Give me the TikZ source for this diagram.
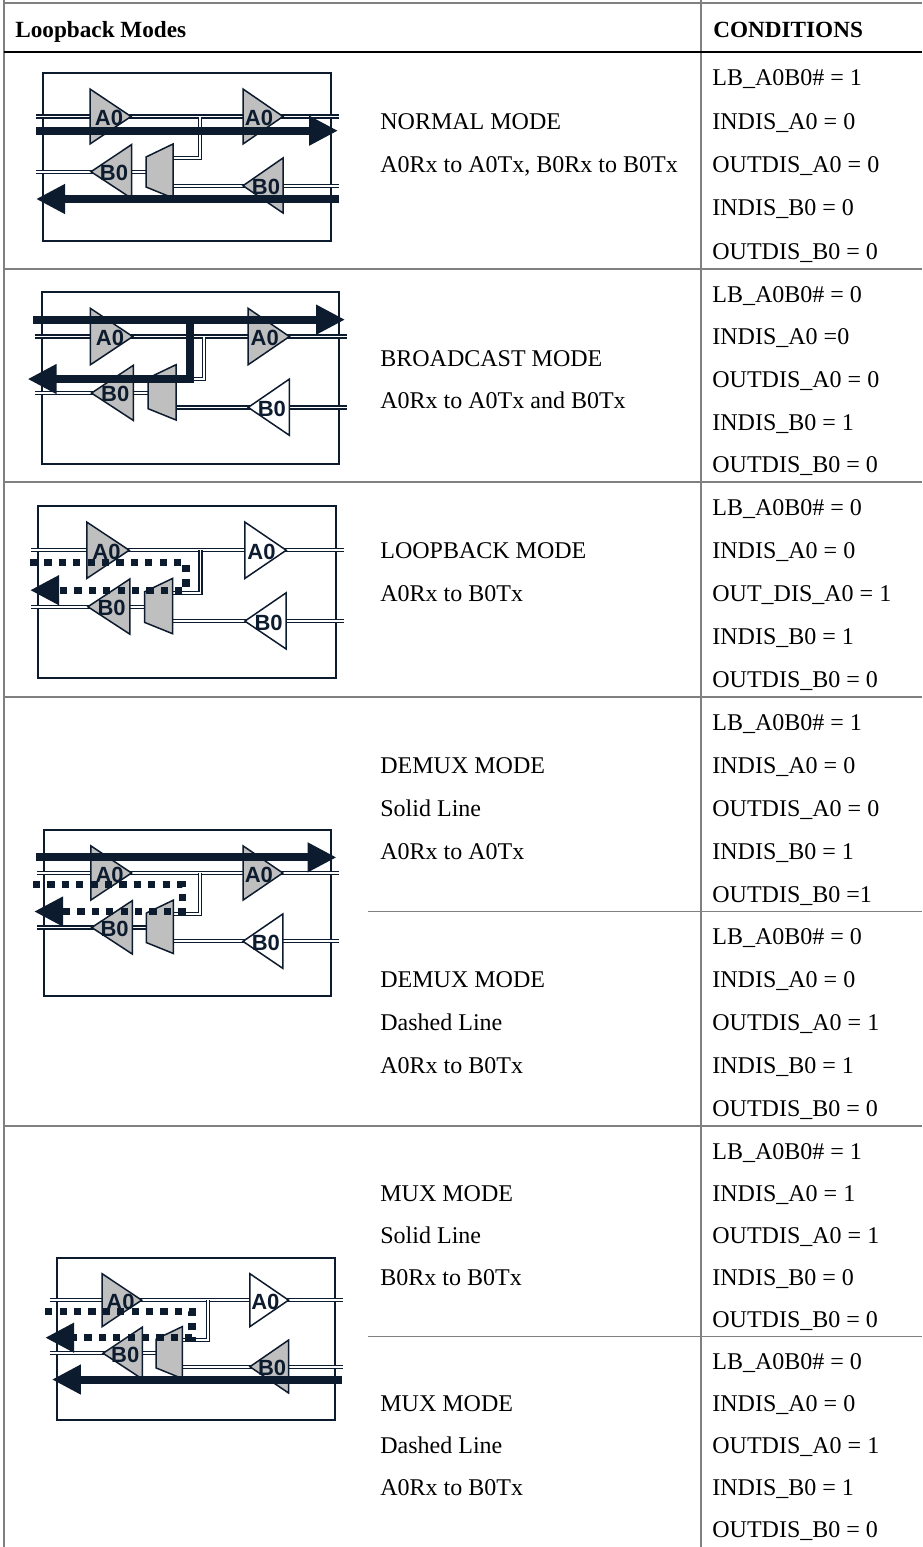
\documentclass[tikz,border=0pt]{standalone}
\usepackage{fontspec}
\setmainfont{Liberation Serif}
\newfontfamily\lblfont{Liberation Sans}
\usepackage{xcolor}
\usepackage{tikz}
\usetikzlibrary{arrows.meta}

\definecolor{navy}{HTML}{0D1B2E}
\definecolor{gfill}{HTML}{BFBFBF}
\definecolor{rulegray}{HTML}{808080}

\tikzset{
  dg1/.style={shift={(43,73)}},
  dg2/.style={shift={(42,292)},xscale=1.031,yscale=1.024},
  dg3/.style={shift={(38.3,505.7)},xscale=1.033,yscale=1.024},
  dg4/.style={shift={(44,830)},xscale=0.995,yscale=0.988},
  dg5/.style={shift={(56.7,1258.3)},xscale=0.966,yscale=0.962},
}

\begin{document}
\begin{tikzpicture}[x=0.5pt,y=-0.5pt, font=\fontsize{12}{14}\selectfont]
				\useasboundingbox (0,0) rectangle (922,1547);
				
				% ===== styles =====
				\tikzset{rule/.style={draw=rulegray, line width=0.75pt},
					wire/.style={draw=navy, line width=0.6pt, double=white, double distance=0.9pt},
					buf/.style={draw=navy, line width=0.75pt, line join=miter},
					lbl/.style={font=\lblfont\bfseries\fontsize{11}{12}\selectfont, text=navy, inner sep=0pt},
					bigarrow/.style={draw=navy, line width=4pt, line join=miter, -{Triangle[length=14.5pt,width=14pt]}},
					dotarrow/.style={draw=navy, line width=3.6pt, line join=miter, dash pattern=on 3.6pt off 3.6pt, -{Triangle[length=14.5pt,width=14pt]}},
					txt/.style={anchor=base west, inner sep=0pt}}
				
				% ===== table rules =====
				\draw[rule] (3,3) -- (922,3);
				\draw[rule] (4,0) -- (4,1547);
				\draw[rule] (701,0) -- (701,1547);
				\draw[black, line width=1.2pt] (4,52) -- (922,52);
				\foreach \y in {269,482,697,1126}{
					\draw[rule] (4,\y) -- (922,\y);
				}
				\foreach \y in {911.5,1336.5}{
					\draw[rule] (368,\y) -- (922,\y);
				}
				
				% ===== header =====
				\node[txt, font=\bfseries\fontsize{11.6}{14}\selectfont] (hmodes) at (15,37) {Loopback Modes};
				\node[txt, font=\bfseries\fontsize{11.6}{14}\selectfont] (hcond) at (713,37) {CONDITIONS};
				
				% ===== conditions =====
				\foreach \t [count=\i] in {LB\_A0B0\# = 1, INDIS\_A0 = 0, OUTDIS\_A0 = 0, INDIS\_B0 = 0, OUTDIS\_B0 = 0}
					\node[txt] (ca-\i) at (712,{52+(\i-0.5)*43.4+12}) {\t};
				\foreach \t [count=\i] in {LB\_A0B0\# = 0, INDIS\_A0 =0, OUTDIS\_A0 = 0, INDIS\_B0 = 1, OUTDIS\_B0 = 0}
					\node[txt] (cb-\i) at (712,{269+(\i-0.5)*42.6+12}) {\t};
				\foreach \t [count=\i] in {LB\_A0B0\# = 0, INDIS\_A0 = 0, OUT\_DIS\_A0 = 1, INDIS\_B0 = 1, OUTDIS\_B0 = 0}
					\node[txt] (cc-\i) at (712,{482+(\i-0.5)*43+12}) {\t};
				\foreach \t [count=\i] in {LB\_A0B0\# = 1, INDIS\_A0 = 0, OUTDIS\_A0 = 0, INDIS\_B0 = 1, OUTDIS\_B0 =1,
					LB\_A0B0\# = 0, INDIS\_A0 = 0, OUTDIS\_A0 = 1, INDIS\_B0 = 1, OUTDIS\_B0 = 0}
					\node[txt] (cd-\i) at (712,{697+(\i-0.5)*42.9+12}) {\t};
				\foreach \t [count=\i] in {LB\_A0B0\# = 1, INDIS\_A0 = 1, OUTDIS\_A0 = 1, INDIS\_B0 = 0, OUTDIS\_B0 = 0,
					LB\_A0B0\# = 0, INDIS\_A0 = 0, OUTDIS\_A0 = 1, INDIS\_B0 = 1, OUTDIS\_B0 = 0}
					\node[txt] (ce-\i) at (712,{1126+(\i-0.5)*42.1+12}) {\t};
				
				% ===== mode names =====
				\node[txt] (ma1) at (380,129.1) {NORMAL MODE};
				\node[txt] (ma2) at (380,172.5) {A0Rx to A0Tx, B0Rx to B0Tx};
				\node[txt] (mb1) at (380,366.2) {BROADCAST MODE};
				\node[txt] (mb2) at (380,408.8) {A0Rx to A0Tx and B0Tx};
				\node[txt] (mc1) at (380,558.5) {LOOPBACK MODE};
				\node[txt] (mc2) at (380,601.5) {A0Rx to B0Tx};
				\node[txt] (md1) at (380,773.4) {DEMUX MODE};
				\node[txt] (md2) at (380,816.3) {Solid Line};
				\node[txt] (md3) at (380,859.2) {A0Rx to A0Tx};
				\node[txt] (md4) at (380,987.9) {DEMUX MODE};
				\node[txt] (md5) at (380,1030.8) {Dashed Line};
				\node[txt] (md6) at (380,1073.7) {A0Rx to B0Tx};
				\node[txt] (me1) at (380,1201.1) {MUX MODE};
				\node[txt] (me2) at (380,1243.2) {Solid Line};
				\node[txt] (me3) at (380,1285.3) {B0Rx to B0Tx};
				\node[txt] (me4) at (380,1411.6) {MUX MODE};
				\node[txt] (me5) at (380,1453.7) {Dashed Line};
				\node[txt] (me6) at (380,1495.8) {A0Rx to B0Tx};
				
				% ===== buffer blocks =====
				\foreach \d/\fa/\fb in {dg1/gfill/gfill, dg2/gfill/white, dg3/white/white, dg4/gfill/white, dg5/white/gfill}{
					\begin{scope}[\d]
						\draw[navy, line width=1pt] (0,0) rectangle (288,168);
						\draw[wire] (-7,43.5) -- (296,43.5);
						\draw[wire] (-7,98.7) -- (103,98.7);
						\draw[wire] (130,112.7) -- (296,112.7);
						\draw[wire] (157,43.5) -- (157,85) -- (130,85);
						\draw[buf, fill=gfill] (47,16) -- (88,43.5) -- (47,71) -- cycle;
						\draw[buf, fill=\fa] (200,16) -- (240,43.5) -- (200,71) -- cycle;
						\draw[buf, fill=gfill] (88.7,71.5) -- (48,98.7) -- (88.7,125.5) -- cycle;
						\draw[buf, fill=gfill] (103,84) -- (130,71) -- (130,125) -- (103,114) -- cycle;
						\draw[buf, fill=\fb] (240,85) -- (200,112.7) -- (240,140) -- cycle;
						\node[lbl] (\d-a0l) at (66,45) {A0};
						\node[lbl] (\d-a0r) at (216,45) {A0};
						\node[lbl] (\d-b0l) at (71,100) {B0};
						\node[lbl] (\d-b0r) at (223,114) {B0};
					\end{scope}
				}
				
				% ===== data paths =====
				\begin{scope}[dg1]
					\draw[bigarrow] (-7,57.7) -- (295,57.7);
					\draw[bigarrow] (296,126) -- (-7,126);
				\end{scope}
				\begin{scope}[dg2]
					\draw[bigarrow] (-9,27) -- (294,27);
					\draw[bigarrow] (144,27) -- (144,85) -- (-14,85);
				\end{scope}
				\begin{scope}[dg3]
					\draw[dotarrow] (-8,55.5) -- (143,55.5) -- (143,82.5) -- (-8,82.5);
				\end{scope}
				\begin{scope}[dg4]
					\draw[bigarrow] (-8,27.7) -- (294,27.7);
					\draw[dotarrow] (-11,55.5) -- (139,55.5) -- (139,82.5) -- (-10,82.5);
				\end{scope}
				\begin{scope}[dg5]
					\draw[dotarrow] (-12,55) -- (140,55) -- (140,82.5) -- (-12,82.5);
					\draw[bigarrow] (295,126) -- (-5,126);
				\end{scope}
			\end{tikzpicture}
\end{document}
